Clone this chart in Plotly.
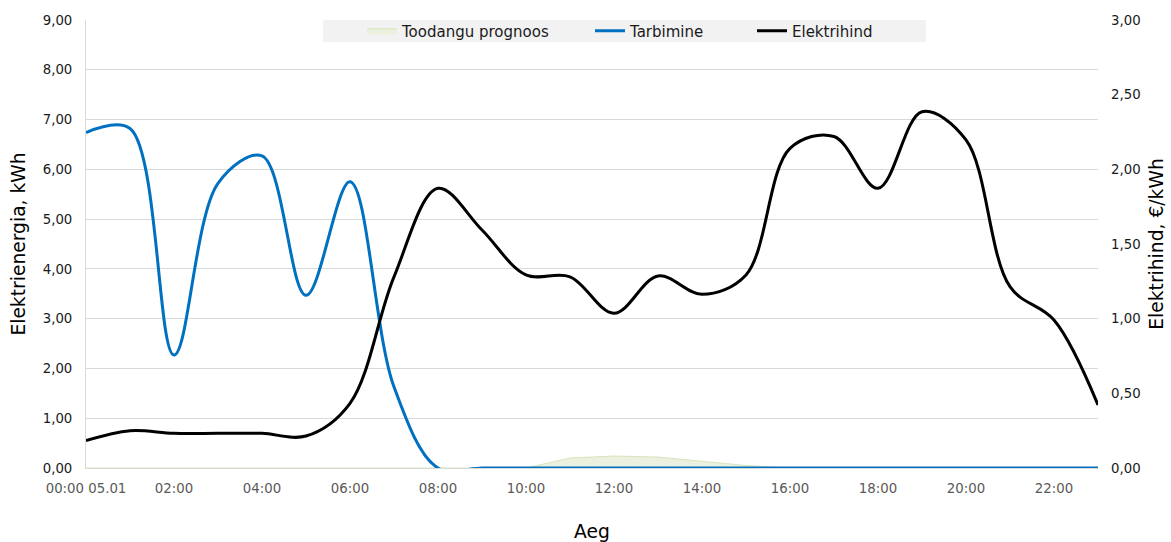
import plotly.graph_objects as go

hours = list(range(24))
tick_vals = [0, 2, 4, 6, 8, 10, 12, 14, 16, 18, 20, 22]
tick_text = ["00:00 05.01", "02:00", "04:00", "06:00", "08:00", "10:00",
             "12:00", "14:00", "16:00", "18:00", "20:00", "22:00"]

toodang = [0, 0, 0, 0, 0, 0, 0, 0, 0, 0, 0, 0.20, 0.24, 0.22, 0.13, 0.05,
           0, 0, 0, 0, 0, 0, 0, 0]
tarbimine = [6.74, 6.82, 2.27, 5.72, 6.27, 3.47, 5.75, 1.63, 0, 0, 0, 0, 0, 0,
             0, 0, 0, 0, 0, 0, 0, 0, 0, 0]
hind = [0.183, 0.25, 0.232, 0.232, 0.232, 0.214, 0.433, 1.28, 1.873, 1.594,
        1.293, 1.28, 1.036, 1.286, 1.163, 1.293, 2.141, 2.22, 1.873, 2.386,
        2.197, 1.214, 0.991, 0.422]

FONT = "Verdana, DejaVu Sans, sans-serif"

fig = go.Figure()
fig.add_trace(go.Scatter(
    x=hours, y=toodang, name="Toodangu prognoos", mode="lines",
    fill="tozeroy", fillcolor="#EBF1DE", line=dict(color="#D7E4BD", width=1),
    legend="legend", hoverinfo="skip"))
fig.add_trace(go.Scatter(
    x=hours, y=tarbimine, name="Tarbimine", mode="lines",
    line=dict(color="#0070C0", width=3, shape="spline", smoothing=1),
    legend="legend2"))
fig.add_trace(go.Scatter(
    x=hours, y=hind, name="Elektrihind", mode="lines", yaxis="y2",
    line=dict(color="#000000", width=3, shape="spline", smoothing=1),
    legend="legend3"))

def px2x(p):
    return (p - 86) / 1012.0

leg_common = dict(orientation="h", yanchor="middle", y=(468 - 31) / 448.0,
                  xanchor="left", bgcolor="rgba(0,0,0,0)",
                  font=dict(family=FONT, size=15, color="#1a1a1a"))

fig.update_layout(
    width=1171, height=542,
    margin=dict(l=86, r=73, t=20, b=74),
    paper_bgcolor="white", plot_bgcolor="white",
    separators=", ",
    font=dict(family=FONT, size=13.3, color="#1a1a1a"),
    showlegend=True,
    legend=dict(x=px2x(362), **leg_common),
    legend2=dict(x=px2x(590), **leg_common),
    legend3=dict(x=px2x(752), **leg_common),
    xaxis=dict(
        range=[0, 23], tickvals=tick_vals, ticktext=tick_text,
        showgrid=False, zeroline=False, showline=True, linecolor="#D9D9D9",
        linewidth=1, ticks="", ticklabelstandoff=8,
        tickfont=dict(family=FONT, size=13.3, color="#595959"),
        title=dict(text="Aeg", font=dict(family=FONT, size=18.7, color="#000000"),
                   standoff=30),
        automargin=False),
    yaxis=dict(
        range=[0, 9], dtick=1, tickformat=".2f",
        showgrid=True, gridcolor="#D9D9D9", gridwidth=1, zeroline=False,
        showline=True, linecolor="#D9D9D9", linewidth=1, ticks="",
        ticklabelstandoff=10,
        tickfont=dict(family=FONT, size=13.3, color="#1a1a1a"),
        title=dict(text="Elektrienergia, kWh",
                   font=dict(family=FONT, size=18.7, color="#000000"),
                   standoff=12),
        automargin=False),
    yaxis2=dict(
        range=[0, 3], dtick=0.5, tickformat=".2f", overlaying="y", side="right",
        showgrid=False, zeroline=False, showline=False, ticks="",
        ticklabelstandoff=12,
        tickfont=dict(family=FONT, size=13.3, color="#1a1a1a"),
        title=dict(text="Elektrihind, €/kWh",
                   font=dict(family=FONT, size=18.7, color="#000000"),
                   standoff=10),
        automargin=False),
    shapes=[dict(type="rect", xref="paper", yref="paper",
                 x0=px2x(323), x1=px2x(926), y0=(468 - 42) / 448.0, y1=1.0,
                 fillcolor="#F2F2F2", line=dict(width=0), layer="below")],
)

fig.write_html("out.html",
               config={"displayModeBar": False},
               post_script="document.body.style.margin='0';document.body.style.overflow='hidden';")
